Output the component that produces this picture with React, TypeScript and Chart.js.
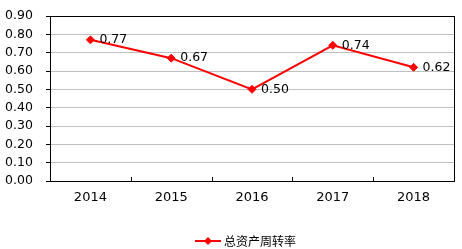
import React, { useEffect, useRef } from "react";
import { Chart, registerables } from "chart.js";

Chart.register(...registerables);

const categories = ["2014", "2015", "2016", "2017", "2018"];
const seriesName = "总资产周转率";
const values = [0.77, 0.67, 0.5, 0.74, 0.62];
const yMin = 0;
const yMax = 0.9;
const yStep = 0.1;

const RED = "#ff0000";
const FONT = "'DejaVu Sans', Verdana, sans-serif";

const framePlugin = {
  id: "frame",
  afterDatasetsDraw(chart: any) {
    const { ctx, chartArea, scales } = chart;
    const x = scales.x;
    ctx.save();
    // inward tick marks at category boundaries
    ctx.strokeStyle = "#000";
    ctx.lineWidth = 1;
    for (let i = 1; i < categories.length; i++) {
      const px = Math.round((x.getPixelForValue(i - 1) + x.getPixelForValue(i)) / 2) + 0.5;
      ctx.beginPath();
      ctx.moveTo(px, chartArea.bottom);
      ctx.lineTo(px, chartArea.bottom - 4);
      ctx.stroke();
    }
    // border box
    ctx.strokeRect(
      Math.round(chartArea.left) + 0.5,
      Math.round(chartArea.top) + 0.5,
      Math.round(chartArea.right - chartArea.left),
      Math.round(chartArea.bottom - chartArea.top)
    );
    // data labels
    const meta = chart.getDatasetMeta(0);
    ctx.fillStyle = "#000";
    ctx.font = `12.5px ${FONT}`;
    ctx.textAlign = "left";
    ctx.textBaseline = "middle";
    meta.data.forEach((pt: any, i: number) => {
      ctx.fillText(values[i].toFixed(2), pt.x + 9, pt.y);
    });
    // legend
    const cx = 208;
    const cy = 241;
    ctx.strokeStyle = RED;
    ctx.lineWidth = 2;
    ctx.beginPath();
    ctx.moveTo(cx - 13, cy);
    ctx.lineTo(cx + 13, cy);
    ctx.stroke();
    ctx.fillStyle = RED;
    ctx.beginPath();
    ctx.moveTo(cx, cy - 4);
    ctx.lineTo(cx + 4, cy);
    ctx.lineTo(cx, cy + 4);
    ctx.lineTo(cx - 4, cy);
    ctx.closePath();
    ctx.fill();
    ctx.fillStyle = "#000";
    ctx.font = `12px 'Noto Sans CJK SC', sans-serif`;
    ctx.textBaseline = "middle";
    ctx.fillText(seriesName, cx + 16, cy);
    ctx.restore();
  },
};

export default function App() {
  const ref = useRef<HTMLCanvasElement>(null);
  useEffect(() => {
    if (!ref.current) return;
    const chart = new Chart(ref.current, {
      type: "line",
      data: {
        labels: categories,
        datasets: [
          {
            label: seriesName,
            data: values,
            borderColor: RED,
            backgroundColor: RED,
            borderWidth: 2,
            pointStyle: "rectRot",
            pointRadius: 4,
            pointBackgroundColor: RED,
            pointBorderColor: RED,
            pointBorderWidth: 1,
            tension: 0,
          },
        ],
      },
      options: {
        animation: false,
        responsive: false,
        maintainAspectRatio: false,
        layout: { padding: { top: 16, right: 8, left: 5, bottom: 0 } },
        plugins: {
          legend: { display: false },
          tooltip: { enabled: false },
        },
        scales: {
          x: {
            type: "category",
            offset: true,
            border: { display: false },
            grid: { display: false, offset: true, drawOnChartArea: false, drawTicks: false },
            ticks: {
              color: "#000",
              font: { family: FONT, size: 13 },
              padding: 9,
              maxRotation: 0,
            },
            afterFit(scale: any) {
              scale.height = 68;
            },
          },
          y: {
            min: yMin,
            max: yMax,
            border: { display: false },
            grid: { color: "#c0c0c0", tickColor: "#000", tickLength: 4, lineWidth: 1 },
            ticks: {
              stepSize: yStep,
              color: "#000",
              crossAlign: "far",
              font: { family: FONT, size: 12.5 },
              callback: (v: any) => Number(v).toFixed(2),
            },
            afterFit(scale: any) {
              scale.width = 45;
            },
          },
        },
      },
      plugins: [framePlugin],
    });
    return () => chart.destroy();
  }, []);
  return (
    <div style={{ position: "absolute", left: 0, top: 0, width: 462, height: 249, background: "#fff" }}>
      <canvas ref={ref} width={462} height={249} style={{ width: 462, height: 249 }} />
    </div>
  );
}
